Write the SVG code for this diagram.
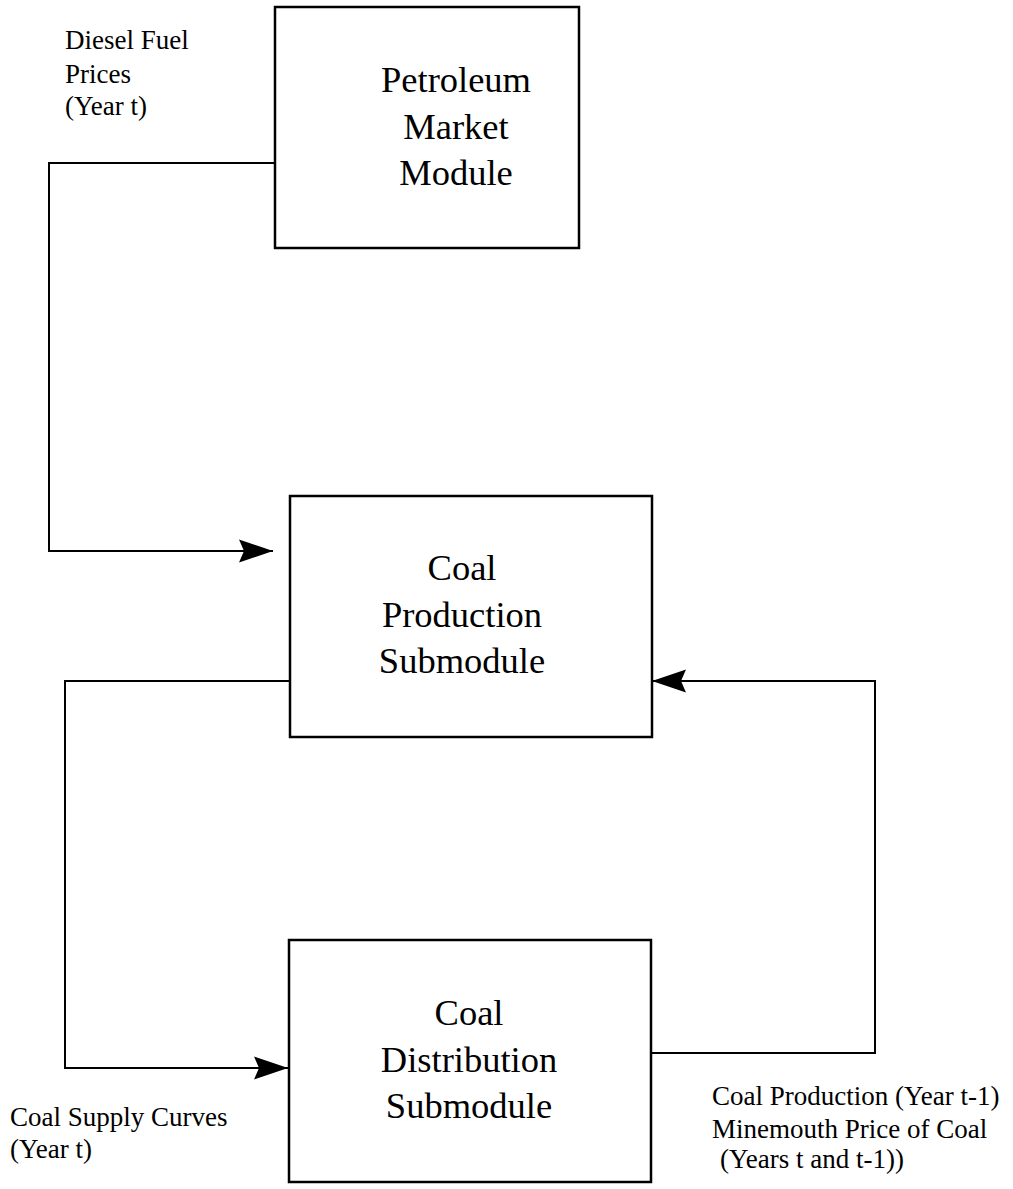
<svg xmlns="http://www.w3.org/2000/svg" width="1013" height="1189" viewBox="0 0 1013 1189">
<style>
.box{fill:#fff;stroke:#000;stroke-width:2.5}
.conn{fill:none;stroke:#000;stroke-width:2}
.main{font-family:"Liberation Serif","Times New Roman",serif;font-size:36.5px;fill:#000;text-anchor:middle}
.lbl{font-family:"Liberation Serif","Times New Roman",serif;font-size:27px;fill:#000}
</style>
<defs>
<marker id="arr" viewBox="0 0 34 24" refX="34" refY="12" markerWidth="34" markerHeight="24" markerUnits="userSpaceOnUse" orient="auto">
<path d="M0,0.5 L34,12 L0,23.5 L5,12 Z" fill="#000"/>
</marker>
</defs>
<rect width="1013" height="1189" fill="#fff"/>
<g id="connectors">
<polyline class="conn" points="275,163 49,163 49,551 273,551" marker-end="url(#arr)"/>
<polyline class="conn" points="290,681 65,681 65,1068 288,1068" marker-end="url(#arr)"/>
<polyline class="conn" points="651,1053 875,1053 875,681 652,681" marker-end="url(#arr)"/>
</g>
<g id="petroleum">
<rect class="box" x="275" y="7" width="304" height="241"/>
<text class="main" x="456" y="92">Petroleum</text>
<text class="main" x="456" y="139">Market</text>
<text class="main" x="456" y="185">Module</text>
</g>
<g id="coal-production">
<rect class="box" x="290" y="496" width="362" height="241"/>
<text class="main" x="462" y="580">Coal</text>
<text class="main" x="462" y="627">Production</text>
<text class="main" x="462" y="673">Submodule</text>
</g>
<g id="coal-distribution">
<rect class="box" x="289" y="940" width="362" height="242"/>
<text class="main" x="469" y="1025">Coal</text>
<text class="main" x="469" y="1072">Distribution</text>
<text class="main" x="469" y="1118">Submodule</text>
</g>
<g id="labels">
<text class="lbl" x="65" y="49">Diesel Fuel</text>
<text class="lbl" x="65" y="83">Prices</text>
<text class="lbl" x="65" y="115">(Year t)</text>
<text class="lbl" x="10" y="1126">Coal Supply Curves</text>
<text class="lbl" x="10" y="1158">(Year t)</text>
<text class="lbl" x="712" y="1105">Coal Production (Year t-1)</text>
<text class="lbl" x="712" y="1138">Minemouth Price of Coal</text>
<text class="lbl" x="720" y="1168">(Years t and t-1))</text>
</g>
</svg>
